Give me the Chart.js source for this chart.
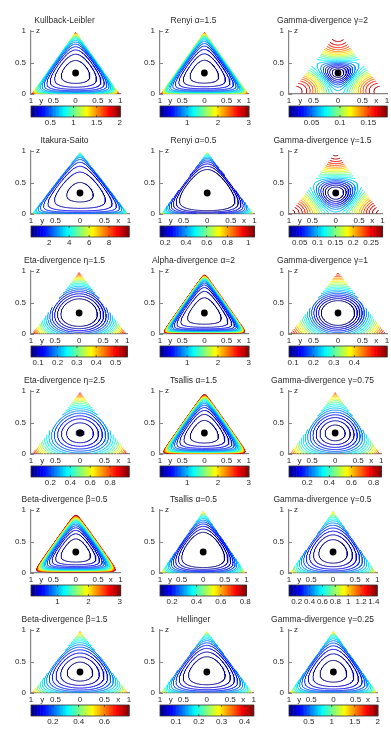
<!DOCTYPE html>
<html>
<head>
<meta charset="utf-8">
<script src="https://cdn.jsdelivr.net/npm/chart.js@4.4.1/dist/chart.umd.min.js"></script>
<style>
html, body { margin: 0; padding: 0; background: #fff; }
#fig { position: relative; width: 391px; height: 729px; overflow: hidden; }
#fig canvas { position: absolute; }
</style>
</head>
<body>
<div id="fig"></div>
<script>
// panels, row by row (3 per row)
const titles = ['Kullback-Leibler', 'Renyi α=1.5', 'Gamma-divergence γ=2',
  'Itakura-Saito', 'Renyi α=0.5', 'Gamma-divergence γ=1.5',
  'Eta-divergence η=1.5', 'Alpha-divergence α=2', 'Gamma-divergence γ=1',
  'Eta-divergence η=2.5', 'Tsallis α=1.5', 'Gamma-divergence γ=0.75',
  'Beta-divergence β=0.5', 'Tsallis α=0.5', 'Gamma-divergence γ=0.5',
  'Beta-divergence β=1.5', 'Hellinger', 'Gamma-divergence γ=0.25'];
const kinds = ['kl', 'renyi', 'gamma', 'is', 'renyi', 'gamma', 'betaPQ', 'alpha', 'gamma',
  'alphaPQ', 'tsallis', 'gamma', 'beta', 'tsallis', 'gamma', 'beta', 'hellinger', 'gamma'];
const params = [0, 1.5, 2, 0, 0.5, 1.5, 1.5, 2, 1, 1.5, 1.5, 0.75, 0.5, 0.5, 0.5, 1.5, 0, 0.25];
const cbMin = [0.08, 0.12, 0.01, 0.17, 0.15, 0.02, 0.063, 0.12, 0.08, 0.005, 0.12, 0.035, 0.15, 0.1, 0.08, 0.03, 0.03, 0.07];
const cbMax = [2.01, 3.0, 0.183, 10, 1.06, 0.282, 0.56, 3.0, 0.56, 0.99, 3.0, 0.87, 3.03, 0.81, 1.45, 0.79, 0.44, 2.0];
const cbTicks = [[0.5, 1, 1.5, 2], [1, 2, 3], [0.05, 0.1, 0.15],
  [2, 4, 6, 8], [0.2, 0.4, 0.6, 0.8, 1], [0.05, 0.1, 0.15, 0.2, 0.25],
  [0.1, 0.2, 0.3, 0.4, 0.5], [1, 2, 3], [0.1, 0.2, 0.3, 0.4],
  [0.2, 0.4, 0.6, 0.8], [1, 2, 3], [0.2, 0.4, 0.6, 0.8],
  [1, 2, 3], [0.2, 0.4, 0.6, 0.8], [0.2, 0.4, 0.6, 0.8, 1, 1.2, 1.4],
  [0.2, 0.4, 0.6], [0.1, 0.2, 0.3, 0.4], [0.5, 1, 1.5, 2]];
const xTickPos = [-1, -0.77, -0.5, 0, 0.5, 0.78, 1];
const xTickText = ['1', 'y', '0.5', '0', '0.5', 'x', '1'];
const yTickPos = [0, 0.5, 1];
const yTickText = ['0', '0.5', '1'];
const centre = [{ x: 0, y: 1 / 3 }];   // q = (1/3, 1/3, 1/3)

const NLEV = 20;
const FONT = '"Liberation Sans", Arial, Helvetica, sans-serif';
const AXIS = '#858585';
const TEXT = '#2a2a2a';

// simplex mesh, p = (px, py, pz) -> X = px - py, Z = pz
const N = 120, EDGE = 0.0095;
const meshX = [], meshZ = [], meshP = [], index = [];
for (let j = 0; j <= N; j++) {
  index.push([]);
  for (let i = 0; i <= N - j; i++) {
    const a = i / N, c = j / N, b = Math.max(1 - a - c, 0);
    const px = EDGE + (1 - 3 * EDGE) * a, py = EDGE + (1 - 3 * EDGE) * b, pz = EDGE + (1 - 3 * EDGE) * c;
    index[j].push(meshX.length);
    meshX.push(px - py); meshZ.push(pz); meshP.push([px, py, pz]);
  }
}
const tris = [];
for (let j = 0; j < N; j++) {
  for (let i = 0; i < N - j; i++) {
    tris.push([index[j][i], index[j][i + 1], index[j + 1][i]]);
    if (i < N - j - 1) tris.push([index[j][i + 1], index[j + 1][i + 1], index[j + 1][i]]);
  }
}

const Q = 1 / 3;
const S = (p, f) => f(p[0]) + f(p[1]) + f(p[2]);
function divergence(kind, a) {
  switch (kind) {
    case 'kl': return p => S(p, v => Q * Math.log(Q / v));
    case 'is': return p => S(p, v => v / Q - Math.log(v / Q) - 1);
    case 'renyi': return p => Math.log(S(p, v => Math.pow(Q, a) * Math.pow(v, 1 - a))) / (a - 1);
    case 'tsallis': return p => (S(p, v => Math.pow(Q, a) * Math.pow(v, 1 - a)) - 1) / (a - 1);
    case 'alpha': return p => S(p, v => Math.pow(Q, a) * Math.pow(v, 1 - a) - a * Q + (a - 1) * v) / (a * (a - 1));
    case 'alphaPQ': return p => S(p, v => Math.pow(v, a) * Math.pow(Q, 1 - a) - a * v + (a - 1) * Q) / (a * (a - 1));
    case 'beta': return p => S(p, v => Math.pow(Q, a) + (a - 1) * Math.pow(v, a) - a * Q * Math.pow(v, a - 1)) / (a * (a - 1));
    case 'betaPQ': return p => S(p, v => Math.pow(v, a) + (a - 1) * Math.pow(Q, a) - a * v * Math.pow(Q, a - 1)) / (a * (a - 1));
    case 'gamma': return p => Math.log(3 * Math.pow(Q, a + 1)) / (a * (a + 1))
      - Math.log(S(p, v => Q * Math.pow(v, a))) / a
      + Math.log(S(p, v => Math.pow(v, a + 1))) / (a + 1);
    case 'hellinger': return p => 1 - S(p, v => Math.sqrt(Q * v));
  }
}

function jet(t) {
  const c = u => Math.round(255 * Math.max(0, Math.min(1, u)));
  return 'rgb(' + c(1.5 - Math.abs(4 * t - 3)) + ',' + c(1.5 - Math.abs(4 * t - 2)) + ',' + c(1.5 - Math.abs(4 * t - 1)) + ')';
}

// marching triangles, segments chained into polylines
function contourLines(vals, level) {
  const pos = new Map(), segs = [];
  for (const t of tris) {
    const hit = [];
    for (let e = 0; e < 3; e++) {
      const a = t[e], b = t[(e + 1) % 3];
      const da = vals[a] - level, db = vals[b] - level;
      if ((da < 0) !== (db < 0)) {
        const key = a < b ? a * 1e5 + b : b * 1e5 + a;
        if (!pos.has(key)) {
          const s = da / (da - db);
          pos.set(key, [meshX[a] + s * (meshX[b] - meshX[a]), meshZ[a] + s * (meshZ[b] - meshZ[a])]);
        }
        hit.push(key);
      }
    }
    if (hit.length === 2) segs.push(hit);
  }
  const ends = new Map();
  segs.forEach((s, i) => s.forEach(k => { if (!ends.has(k)) ends.set(k, []); ends.get(k).push(i); }));
  const used = new Uint8Array(segs.length);
  const starts = [...ends.keys()].sort((a, b) => ends.get(a).length - ends.get(b).length);
  const lines = [];
  for (const k0 of starts) {
    let cur = k0, seg = ends.get(cur).find(i => !used[i]);
    if (seg === undefined) continue;
    const line = [pos.get(cur)];
    while (seg !== undefined) {
      used[seg] = 1;
      cur = segs[seg][0] === cur ? segs[seg][1] : segs[seg][0];
      line.push(pos.get(cur));
      seg = ends.get(cur).find(i => !used[i]);
    }
    lines.push(line);
  }
  return lines;
}

const extras = {
  id: 'extras',
  afterDraw(chart) {
    const { ctx, scales: { x, y, cb } } = chart;
    ctx.save();
    ctx.strokeStyle = AXIS; ctx.lineWidth = 1;
    yTickPos.forEach(v => {
      const py = Math.round(y.getPixelForValue(v)) + 0.5;
      ctx.beginPath(); ctx.moveTo(x.left, py); ctx.lineTo(x.left + 3, py); ctx.stroke();
    });
    ctx.fillStyle = TEXT; ctx.font = '8px ' + FONT; ctx.textBaseline = 'middle'; ctx.textAlign = 'left';
    ctx.fillText('z', x.left + 5, y.getPixelForValue(1));
    // colorbar
    const top = cb.top, h = 11, n = 64;
    for (let i = 0; i < n; i++) {
      const x0 = cb.getPixelForDecimal(i / n), x1 = cb.getPixelForDecimal((i + 1) / n);
      ctx.fillStyle = jet((i + 0.5) / n);
      ctx.fillRect(x0, top, x1 - x0 + 0.6, h);
    }
    ctx.strokeStyle = '#333'; ctx.lineWidth = 0.8;
    ctx.strokeRect(cb.left, top, cb.right - cb.left, h);
    cbTicks[chart.options.panel].forEach(v => {
      const px = cb.getPixelForValue(v);
      ctx.beginPath();
      ctx.moveTo(px, top); ctx.lineTo(px, top + 2);
      ctx.moveTo(px, top + h); ctx.lineTo(px, top + h - 2);
      ctx.stroke();
    });
    ctx.restore();
  }
};

const fig = document.getElementById('fig');
for (let k = 0; k < 18; k++) {
  const row = Math.floor(k / 3), col = k % 3;
  const cv = document.createElement('canvas');
  cv.width = 134; cv.height = 130;
  cv.style.left = (col * 129) + 'px';
  cv.style.top = Math.round(row * 119.85) + 'px';
  fig.appendChild(cv);

  const f = divergence(kinds[k], params[k]);
  const vals = meshP.map(f);
  const lo = cbMin[k], hi = cbMax[k];
  const datasets = [{
    data: centre, showLine: false, pointRadius: 3.4, pointHoverRadius: 3.4,
    backgroundColor: '#000', borderColor: '#000', borderWidth: 0
  }];
  for (let i = 0; i < NLEV; i++) {
    const lev = lo + (hi - lo) * i / (NLEV - 1);
    const data = [];
    contourLines(vals, lev).forEach(l => {
      l.forEach(q => data.push({ x: q[0], y: q[1] }));
      data.push({ x: null, y: null });
    });
    datasets.push({
      data, showLine: true, borderColor: jet((lev - lo) / (hi - lo)), borderWidth: 1,
      pointRadius: 0, pointHoverRadius: 0, spanGaps: false
    });
  }

  new Chart(cv, {
    type: 'scatter',
    data: { datasets },
    plugins: [extras],
    options: {
      panel: k,
      responsive: false, animation: false, devicePixelRatio: 1, events: [],
      layout: { padding: { left: 0, right: 5, top: 0, bottom: 0 } },
      plugins: {
        legend: { display: false }, tooltip: { enabled: false },
        title: {
          display: true, text: titles[k], color: TEXT,
          font: { family: FONT, size: 8.5, weight: 'normal' },
          padding: { top: 16, bottom: 4.8 }
        }
      },
      scales: {
        x: {
          type: 'linear', position: 'bottom', min: -1, max: 1, weight: 0,
          afterFit: s => { s.height = 12; },
          afterBuildTicks: s => { s.ticks = xTickPos.map(v => ({ value: v })); },
          grid: { display: false, drawTicks: false },
          border: { display: true, color: AXIS, width: 1.2 },
          ticks: { autoSkip: false, maxRotation: 0, padding: 2, color: TEXT,
            font: { family: FONT, size: 8 }, callback: (v, i) => xTickText[i] }
        },
        y: {
          type: 'linear', position: 'left', min: 0, max: 1,
          afterFit: s => { s.width = 31; },
          afterBuildTicks: s => { s.ticks = yTickPos.map(v => ({ value: v })); },
          grid: { display: false, drawTicks: false },
          border: { display: true, color: AXIS, width: 1.2 },
          ticks: { padding: 5, color: TEXT, font: { family: FONT, size: 8 }, callback: (v, i) => yTickText[i] }
        },
        cb: {
          type: 'linear', axis: 'x', position: 'bottom', min: lo, max: hi, weight: 1,
          afterFit: s => { s.height = 24; },
          afterBuildTicks: s => { s.ticks = cbTicks[k].map(v => ({ value: v })); },
          grid: { display: false, drawTicks: false },
          border: { display: false },
          ticks: { autoSkip: false, maxRotation: 0, padding: 12, color: TEXT,
            font: { family: FONT, size: 8 }, callback: v => String(v) }
        }
      }
    }
  });
}
</script>
</body>
</html>
